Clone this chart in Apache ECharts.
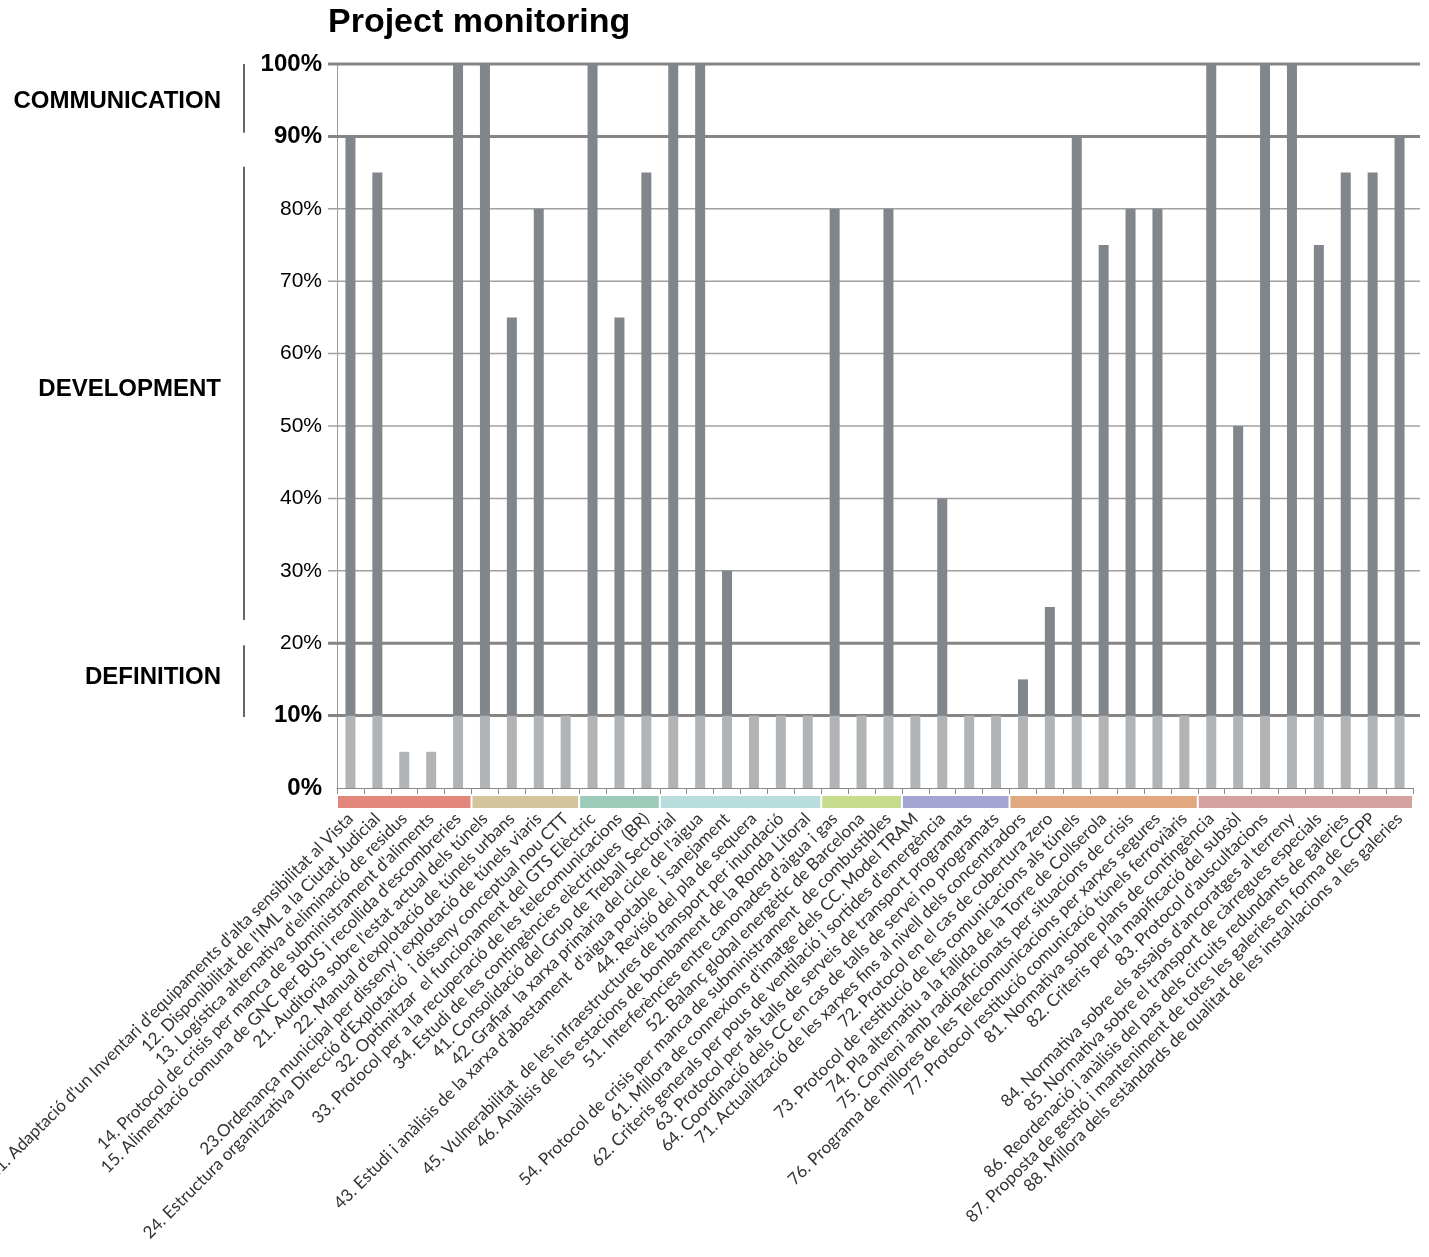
<!DOCTYPE html>
<html>
<head>
<meta charset="utf-8">
<script src="https://cdn.jsdelivr.net/npm/echarts@6/dist/echarts.min.js"></script>
<style>
html,body{margin:0;padding:0;background:#fff;}
#chart{width:1429px;height:1257px;}
</style>
</head>
<body>
<div id="chart"></div>
<script>
const categories = [
  "11. Adaptació d'un Inventari d'equipaments d'alta sensibilitat al Vista",
  "12. Disponibilitat de l'IML a la Ciutat Judicial",
  "13. Logística alternativa d'eliminació de residus",
  "14. Protocol de crisis per manca de subministrament d'aliments",
  "15. Alimentació comuna de GNC per BUS i recollida d'escombreries",
  "21. Auditoria sobre l'estat actual dels túnels",
  "22. Manual d'explotació de túnels urbans",
  "23.Ordenança municipal per disseny i explotació de túnels viaris",
  "24. Estructura organitzativa Direcció d'Explotació  i disseny conceptual nou CTT",
  "32. Optimitzar  el funcionament del GTS Elèctric",
  "33. Protocol per a la recuperació de les telecomunicacions",
  "34. Estudi de les contingències elèctriques  (BR)",
  "41. Consolidació del Grup de Treball Sectorial",
  "42. Grafiar  la xarxa primària del cicle de l'aigua",
  "43. Estudi i anàlisis de la xarxa d'abastament  d'aigua potable  i sanejament",
  "44. Revisió del pla de sequera",
  "45. Vulnerabilitat  de les infraestructures de transport per inundació",
  "46. Anàlisis de les estacions de bombament de la Ronda Litoral",
  "51. Interferències entre canonades d'aigua i gas",
  "52. Balanç global energètic de Barcelona",
  "54. Protocol de crisis per manca de subministrament  de combustibles",
  "61. Millora de connexions d'imatge dels CC. Model TRAM",
  "62. Criteris generals per pous de ventilació i sortides d'emergència",
  "63. Protocol per als talls de serveis de transport programats",
  "64. Coordinació dels CC en cas de talls de servei no programats",
  "71. Actualització de les xarxes fins al nivell dels concentradors",
  "72. Protocol en el cas de cobertura zero",
  "73. Protocol de restitució de les comunicacions als túnels",
  "74. Pla alternatiu a la fallida de la Torre de Collserola",
  "75. Conveni amb radioaficionats per situacions de crisis",
  "76. Programa de millores de les Telecomunicacions per xarxes segures",
  "77. Protocol restitució comunicació túnels ferroviàris",
  "81. Normativa sobre plans de contingència",
  "82. Criteris per la mapificació del subsòl",
  "83. Protocol d'auscultacions",
  "84. Normativa sobre els assajos d'ancoratges al terreny",
  "85. Normativa sobre el transport de càrregues especials",
  "86. Reordenació i anàlisis del pas dels circuits redundants de galeries",
  "87. Proposta de gestió i manteniment de totes les galeries en forma de CCPP",
  "88. Millora dels estàndards de qualitat de les instal·lacions a les galeries"
];
const progress = [90,85,5,5,100, 100,65,80,10, 100,65,85, 100,100,30,10,10,10, 80,10,80, 10,40,10,10, 15,25,90,75,80,80,10, 100,50,100,100,75,85,85,90];
const groupSizes = [5,4,3,6,3,4,7,8];
const groupColors = ['#e3867b','#d3c49b','#9dcbba','#b8dddc','#c7dc8c','#a6a4d3','#e2a87f','#d6a2a0'];
const yTicks = [0,10,20,30,40,50,60,70,80,90,100];
const boldTicks = [0,10,90,100];
const thickLines = [10,20,90,100];
const phases = [
  {name:'COMMUNICATION', from:100, to:90.5, label:94.9},
  {name:'DEVELOPMENT', from:85.8, to:23.2, label:55.1},
  {name:'DEFINITION', from:19.7, to:9.8, label:15.3}
];

const baseVals = progress.map(v => Math.min(v,10));
const topVals = progress.map(v => Math.max(v-10,0));

const chart = echarts.init(document.getElementById('chart'));
chart.setOption({
  animation:false,
  backgroundColor:'#fff',
  title:{text:'Project monitoring', left:328, top:6, padding:0,
    textStyle:{fontFamily:'Liberation Sans, Arial', fontSize:34, fontWeight:'bold', color:'#000'}},
  grid:{left:337, right:16, top:64, bottom:469, containLabel:false, outerBoundsMode:'none'},
  xAxis:{type:'category', data:categories,
    axisLine:{show:true, lineStyle:{color:'#8a8a8a', width:1}},
    axisTick:{show:true, length:6, lineStyle:{color:'#8a8a8a'}},
    axisLabel:{interval:0, rotate:45, margin:28, fontFamily:'Lato', fontSize:17, color:'#333'}},
  yAxis:{type:'value', min:0, max:100, interval:10,
    axisLine:{show:true, lineStyle:{color:'#999', width:1}},
    axisTick:{show:false},
    splitLine:{show:false},
    axisLabel:{margin:15, formatter:function(v){ return boldTicks.indexOf(v)>=0 ? '{b|'+v+'%}' : '{n|'+v+'%}'; },
      rich:{b:{fontFamily:'Liberation Sans, Arial', fontSize:24, fontWeight:'bold', color:'#000'},
            n:{fontFamily:'Liberation Sans, Arial', fontSize:21, color:'#000'}}}},
  series:[
    {type:'bar', stack:'p', data:baseVals, barWidth:10, itemStyle:{color:'#b1b4b6'}, z:3},
    {type:'bar', stack:'p', data:topVals, barWidth:10, itemStyle:{color:'#80868b'}, z:3}
  ]
});

const g = [];
const yPx = v => chart.convertToPixel({yAxisIndex:0}, v);
const xPx = i => chart.convertToPixel({xAxisIndex:0}, i);
yTicks.forEach(v => {
  const thick = thickLines.indexOf(v)>=0;
  if (v===0) return;
  const y = yPx(v);
  g.push({type:'line', z:1, shape:{x1:328, y1:y, x2:1420, y2:y},
    style:{stroke: thick ? '#858585' : '#a0a0a0', lineWidth: thick ? 3 : 1.5}});
});
let idx = 0;
const band = xPx(1) - xPx(0);
groupSizes.forEach((n,k) => {
  const x0 = xPx(idx) - band/2 + 1;
  const x1 = xPx(idx+n-1) + band/2 - 1;
  const y0 = yPx(0);
  g.push({type:'rect', z:5, shape:{x:x0, y:y0+8, width:x1-x0, height:12}, style:{fill:groupColors[k]}});
  idx += n;
});
phases.forEach(p => {
  g.push({type:'line', z:5, shape:{x1:244, y1:yPx(p.from), x2:244, y2:yPx(p.to)}, style:{stroke:'#000', lineWidth:1.2}});
  g.push({type:'text', z:5, x:221, y:yPx(p.label), style:{text:p.name, align:'right', verticalAlign:'middle',
    font:'bold 24px "Liberation Sans", Arial', fill:'#000'}});
});
chart.setOption({graphic:g});
</script>
</body>
</html>
